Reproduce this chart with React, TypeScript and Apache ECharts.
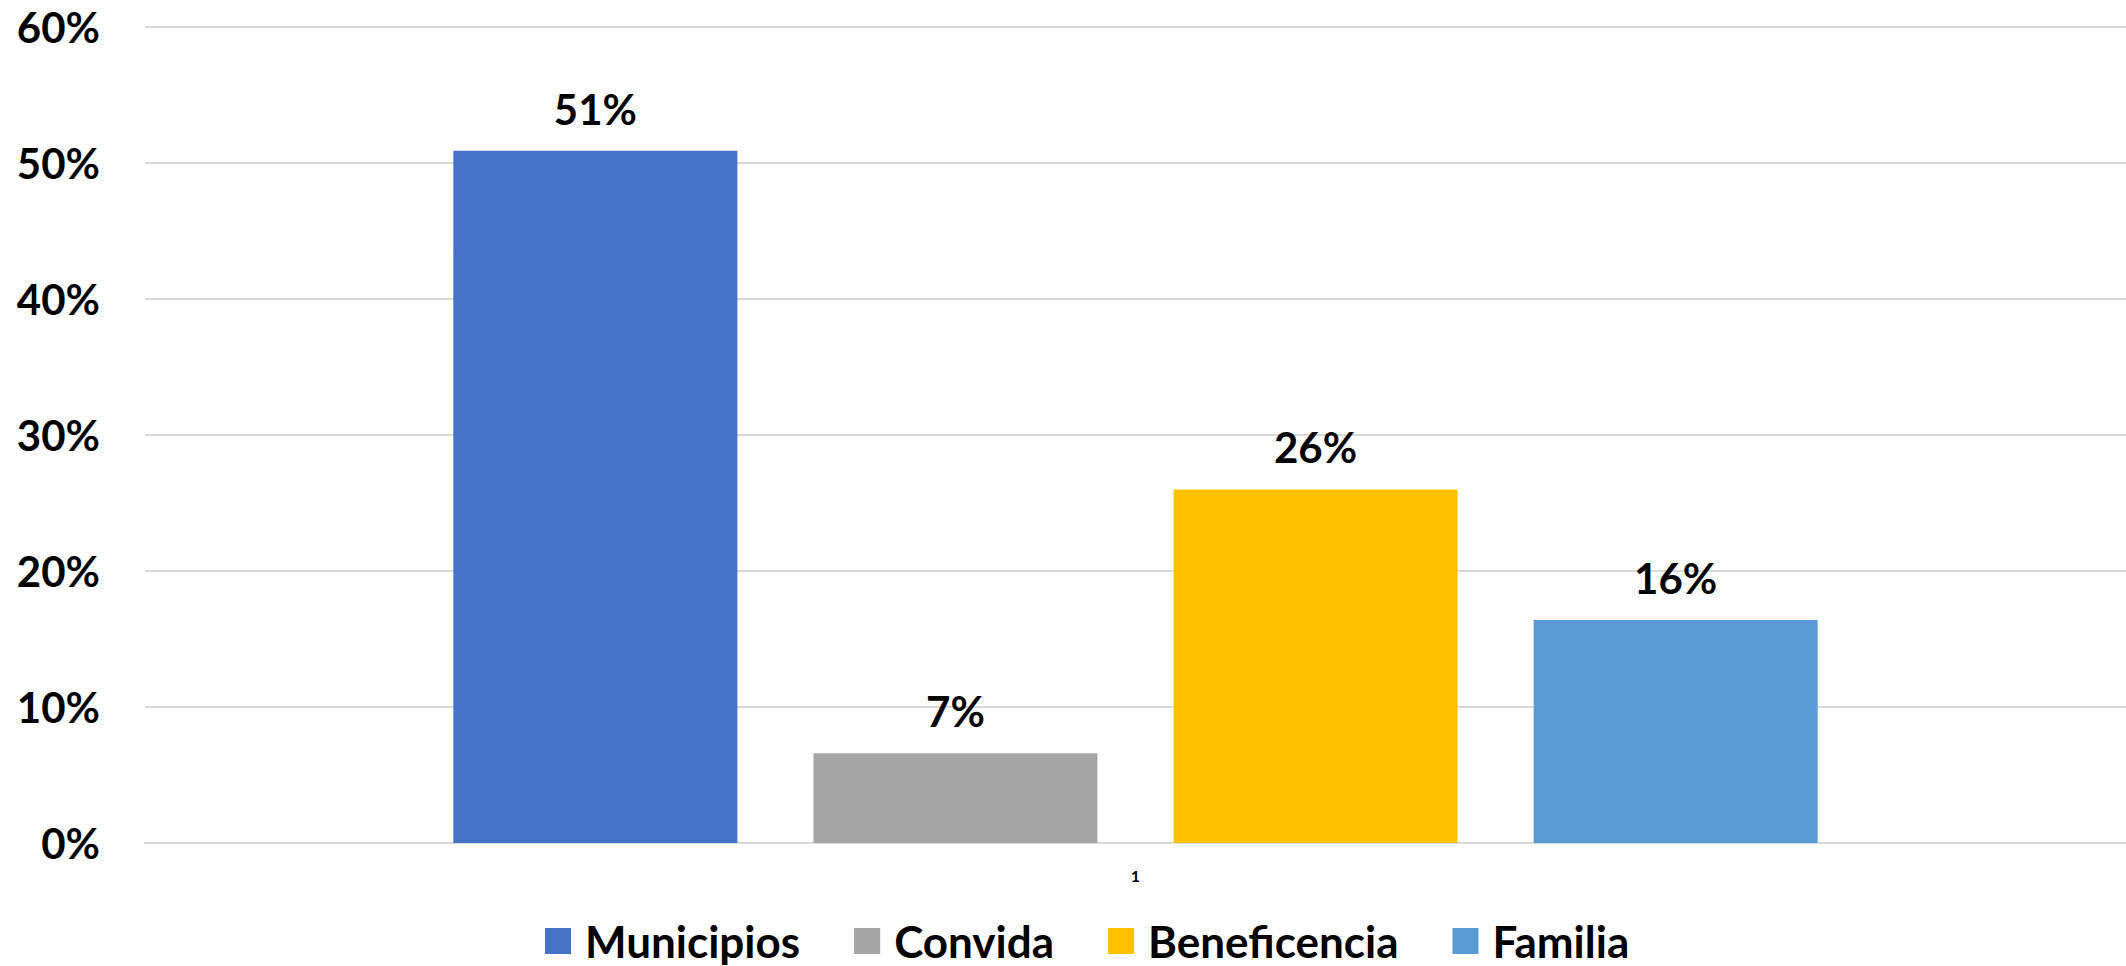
import React, { useEffect, useRef } from "react";
import * as echarts from "echarts";

const categories = ["1"];
const seriesNames = ["Municipios", "Convida", "Beneficencia", "Familia"];
const seriesValues = [0.509, 0.066, 0.26, 0.164];
const seriesColors = ["#4472C4", "#A5A5A5", "#FFC000", "#5B9BD5"];
const yTicks = { min: 0, max: 0.6, interval: 0.1 };

const FONT = "Lato, 'Open Sans', sans-serif";

export default function App() {
  const ref = useRef<HTMLDivElement>(null);
  useEffect(() => {
    if (!ref.current) return;
    const chart = echarts.init(ref.current, null, { renderer: "svg" });
    chart.setOption({
      animation: false,
      backgroundColor: "#ffffff",
      textStyle: { fontFamily: FONT },
      grid: { left: 145, right: 0, top: 27, bottom: 123, containLabel: false },
      legend: {
        left: 540,
        top: 912,
        icon: "rect",
        itemWidth: 26,
        itemHeight: 26,
        itemGap: 54,
        textStyle: {
          fontFamily: FONT,
          fontSize: 44,
          fontWeight: "bold",
          color: "#000",
          lineHeight: 48,
          padding: [0, 0, 0, 9],
        },
        data: seriesNames,
      },
      xAxis: {
        type: "category",
        data: categories,
        axisLine: { show: true, lineStyle: { color: "#D9D9D9", width: 2 } },
        axisTick: { show: false },
        axisLabel: { fontSize: 16, fontWeight: "bold", color: "#000", margin: 24, fontFamily: FONT },
      },
      yAxis: {
        type: "value",
        min: yTicks.min,
        max: yTicks.max,
        interval: yTicks.interval,
        axisLine: { show: false },
        axisTick: { show: false },
        splitLine: { lineStyle: { color: "#D9D9D9", width: 2 } },
        axisLabel: {
          fontSize: 42,
          fontWeight: "bold",
          color: "#000",
          margin: 45,
          fontFamily: FONT,
          formatter: (v: number) => `${Math.round(v * 100)}%`,
        },
      },
      series: seriesNames.map((name, i) => ({
        name,
        type: "bar",
        data: [seriesValues[i]],
        barWidth: 284,
        barGap: "26.8%",
        itemStyle: { color: seriesColors[i] },
        label: {
          show: true,
          position: "top",
          distance: 21,
          fontSize: 42,
          fontWeight: "bold",
          color: "#000",
          fontFamily: FONT,
          formatter: (p: any) => `${Math.round(p.value * 100)}%`,
        },
      })),
    });
    return () => chart.dispose();
  }, []);
  return (
    <div
      ref={ref}
      style={{ position: "fixed", left: 0, top: 0, width: 2126, height: 966 }}
    />
  );
}
